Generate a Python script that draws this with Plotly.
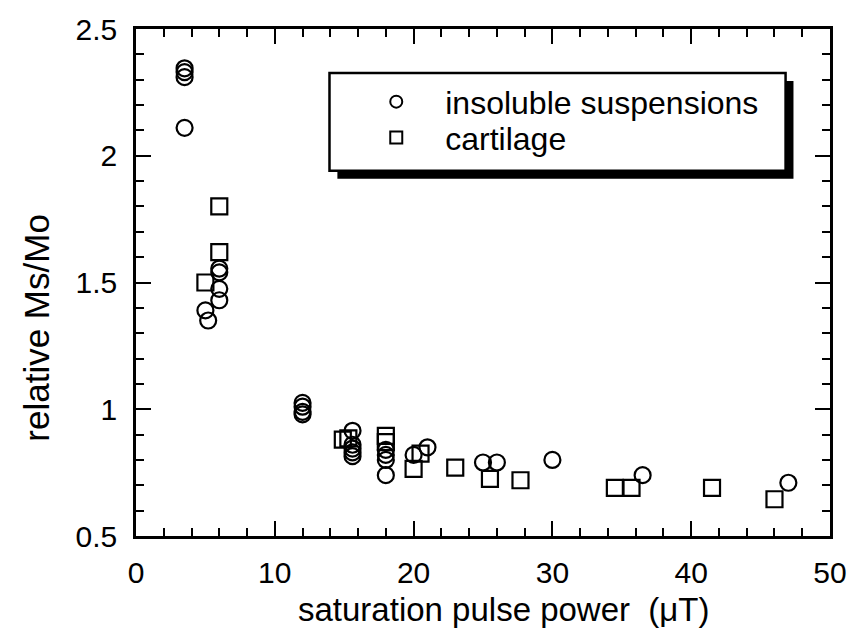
import plotly.graph_objects as go

# insoluble suspensions (circles)
susp_x = [3.5, 3.5, 3.5, 3.5, 5.0, 5.2, 6.0, 6.0, 6.0, 6.0,
          12.0, 12.0, 12.0, 12.0,
          15.6, 15.6, 15.6, 15.6, 15.6,
          18.0, 18.0, 18.0, 18.0,
          20.0, 21.0, 25.0, 26.0, 30.0, 36.5, 47.0]
susp_y = [2.345, 2.33, 2.31, 2.11, 1.39, 1.35, 1.555, 1.54, 1.475, 1.43,
          1.025, 1.01, 0.99, 0.98,
          0.915, 0.86, 0.845, 0.83, 0.815,
          0.84, 0.82, 0.80, 0.74,
          0.82, 0.85, 0.79, 0.79, 0.80, 0.74, 0.71]

# cartilage (squares)
cart_x = [6.0, 6.0, 5.0, 14.9, 15.3, 18.0, 18.0, 20.0, 20.5,
          23.0, 25.5, 27.7, 34.5, 35.7, 41.5, 46.0]
cart_y = [1.80, 1.62, 1.50, 0.88, 0.885, 0.895, 0.87, 0.765, 0.825,
          0.77, 0.725, 0.72, 0.69, 0.69, 0.69, 0.645]

x_ticks = [0, 10, 20, 30, 40, 50]
y_ticks = [0.5, 1, 1.5, 2, 2.5]
y_tick_text = ["0.5", "1", "1.5", "2", "2.5"]

FONT = "Liberation Sans, Arial, Helvetica, sans-serif"

fig = go.Figure()
fig.add_trace(go.Scatter(
    x=susp_x, y=susp_y, mode="markers", name="insoluble suspensions",
    legend="legend",
    marker=dict(symbol="circle-open", size=16, color="black",
                line=dict(width=2.2, color="black")),
))
fig.add_trace(go.Scatter(
    x=cart_x, y=cart_y, mode="markers", name="cartilage",
    legend="legend2",
    marker=dict(symbol="square-open", size=16, color="black",
                line=dict(width=2.2, color="black")),
))

W, H = 859, 637
L, R, T, B = 136, 20, 28, 101
pw, ph = W - L - R, H - T - B

def px(xp):
    return (xp - L) / pw

def py(yp):
    return (H - B - yp) / ph

# legend box with drop shadow
fig.add_shape(type="rect", xref="paper", yref="paper",
              x0=px(340), x1=px(802), y0=py(178), y1=py(80),
              fillcolor="black", line=dict(width=0), layer="above")
fig.add_shape(type="rect", xref="paper", yref="paper",
              x0=px(332), x1=px(794), y0=py(170), y1=py(72),
              fillcolor="white", line=dict(width=2.5, color="black"), layer="above")

leg_common = dict(xanchor="left", yanchor="middle",
                  bgcolor="rgba(0,0,0,0)", borderwidth=0,
                  font=dict(family=FONT, size=32, color="black"),
                  itemwidth=88, itemsizing="constant")

fig.update_layout(
    width=W, height=H,
    margin=dict(l=L, r=R, t=T, b=B),
    paper_bgcolor="white", plot_bgcolor="white",
    font=dict(family=FONT, size=28, color="black"),
    showlegend=True,
    legend=dict(x=px(350), y=py(101), **leg_common),
    legend2=dict(x=px(350), y=py(137), **leg_common),
    annotations=[
        dict(text="relative Ms/Mo", xref="paper", yref="paper",
             x=px(35), y=py(327), textangle=-90, showarrow=False,
             font=dict(family=FONT, size=35, color="black"),
             xanchor="center", yanchor="middle"),
        dict(text="saturation pulse power  (\u03bcT)", xref="paper", yref="paper",
             x=px(509), y=py(610), showarrow=False,
             font=dict(family=FONT, size=33, color="black"),
             xanchor="center", yanchor="middle"),
    ],
)

fig.update_xaxes(
    range=[0, 50], tickvals=x_ticks, ticktext=[str(v) for v in x_ticks],
    ticks="inside", ticklen=15, tickwidth=2, tickcolor="black",
    showline=True, linewidth=2.5, linecolor="black", mirror="allticks",
    showgrid=False, zeroline=False,
    tickfont=dict(family=FONT, size=30, color="black"),
    ticklabelstandoff=8,
    minor=dict(dtick=2, ticks="inside", ticklen=8, tickwidth=1.5, tickcolor="black", showgrid=False),
)
fig.update_yaxes(
    range=[0.5, 2.5], tickvals=y_ticks, ticktext=y_tick_text,
    ticks="inside", ticklen=15, tickwidth=2, tickcolor="black",
    showline=True, linewidth=2.5, linecolor="black", mirror="allticks",
    showgrid=False, zeroline=False,
    tickfont=dict(family=FONT, size=30, color="black"),
    ticklabelstandoff=10,
    minor=dict(dtick=0.1, ticks="inside", ticklen=8, tickwidth=1.5, tickcolor="black", showgrid=False),
)

fig.write_html("out.html")
